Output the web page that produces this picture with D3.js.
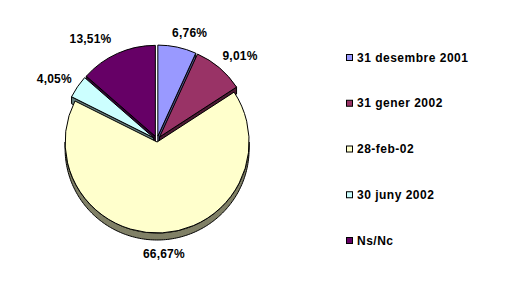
<!DOCTYPE html>
<html><head><meta charset="utf-8">
<script src="https://cdn.jsdelivr.net/npm/d3@7"></script>
<style>body{margin:0;background:#fff}svg{display:block}text{font-family:"Liberation Sans",Arial,sans-serif;font-weight:bold;font-size:12px;fill:#000}</style>
</head><body><svg id="c" width="530" height="288"></svg>
<script>
const categories = ["31 desembre 2001","31 gener 2002","28-feb-02","30 juny 2002","Ns/Nc"];
const values = [6.76, 9.01, 66.67, 4.05, 13.51];
const valueLabels = ["6,76%","9,01%","66,67%","4,05%","13,51%"];
const colors = ["#9999FF","#993366","#FFFFCC","#CCFFFF","#660066"];
const sideColors = ["#4C4C80","#4C1933","#808066","#668080","#330033"];
const labelNudge = [[7,-2],[4,-2],[0,1],[-2,-1],[-15,-3]];

const svg = d3.select("#c");
const cx = 157, cy = 140, rx = 92, ry = 91, depth = 7;
const pie = d3.pie().sort(null).value(d => d)(values);
const arc = d3.arc().innerRadius(0).outerRadius(rx);
const explode = i => i === 2 ? 2 : 4;

const off = d => { const m = (d.startAngle + d.endAngle) / 2, e = explode(d.index); return [e*Math.sin(m), -e*Math.cos(m)]; };
const pt = (d, a, dz) => { const [ox, oy] = off(d); return [cx + ox + rx*Math.sin(a), cy + oy - ry*Math.cos(a) + (dz||0)]; };
const ctr = (d, dz) => { const [ox, oy] = off(d); return [cx + ox, cy + oy + (dz||0)]; };

const order = pie.slice().sort((a, b) => -Math.cos((a.startAngle+a.endAngle)/2) - -Math.cos((b.startAngle+b.endAngle)/2));
const line = d3.line();
const g = svg.append("g");
order.forEach(d => {
  const i = d.index;
  [[d.startAngle, d.startAngle - Math.PI/2], [d.endAngle, d.endAngle + Math.PI/2]].forEach(([a, n]) => {
    if (Math.cos(n) < -0.01) {
      g.append("path").attr("d", line([ctr(d), pt(d, a), pt(d, a, depth), ctr(d, depth)]) + "Z")
        .attr("fill", sideColors[i]).attr("stroke", "#000").attr("stroke-width", 1).attr("stroke-linejoin", "round");
    }
  });
  const a0 = Math.max(d.startAngle, Math.PI/2), a1 = Math.min(d.endAngle, 3*Math.PI/2);
  if (a1 > a0) {
    const angs = d3.range(a0, a1, 0.02).concat([a1]);
    const pts = angs.map(a => pt(d, a)).concat(angs.slice().reverse().map(a => pt(d, a, depth)));
    g.append("path").attr("d", line(pts) + "Z").attr("fill", sideColors[i]).attr("stroke", "#000").attr("stroke-width", 1);
  }
  const [ox, oy] = off(d);
  g.append("path").attr("d", arc(d))
    .attr("transform", `translate(${cx+ox},${cy+oy}) scale(1,${ry/rx})`)
    .attr("fill", colors[i]).attr("stroke", "#000").attr("stroke-width", 1)
    .attr("vector-effect", "non-scaling-stroke").attr("stroke-linejoin", "round");
});

pie.forEach(d => {
  const m = (d.startAngle + d.endAngle)/2, s = Math.sin(m), c = Math.cos(m);
  const [ox, oy] = off(d);
  const t = svg.append("text").text(valueLabels[d.index]).attr("text-anchor", "middle").attr("letter-spacing", "0.2px");
  const w = t.node().getComputedTextLength(), h = 10, p = 8;
  const dz = c < 0 ? depth : 0;
  const x = cx + ox + (rx+p)*s + s*w/2 + labelNudge[d.index][0];
  const y = cy + oy - (ry+p)*c - c*h/2 + dz + labelNudge[d.index][1];
  t.attr("x", x).attr("y", y + 4.5);
});

const ly = d3.scalePoint().domain(categories).range([57, 240]);
const lg = svg.append("g");
categories.forEach((k, i) => {
  lg.append("rect").attr("x", 346.5).attr("y", ly(k) - 2.5).attr("width", 6).attr("height", 6)
    .attr("fill", colors[i]).attr("stroke", "#000").attr("stroke-width", 1);
  lg.append("text").attr("x", 357).attr("y", ly(k) + 4.5).attr("letter-spacing", "0.5px").text(k);
});
</script></body></html>
